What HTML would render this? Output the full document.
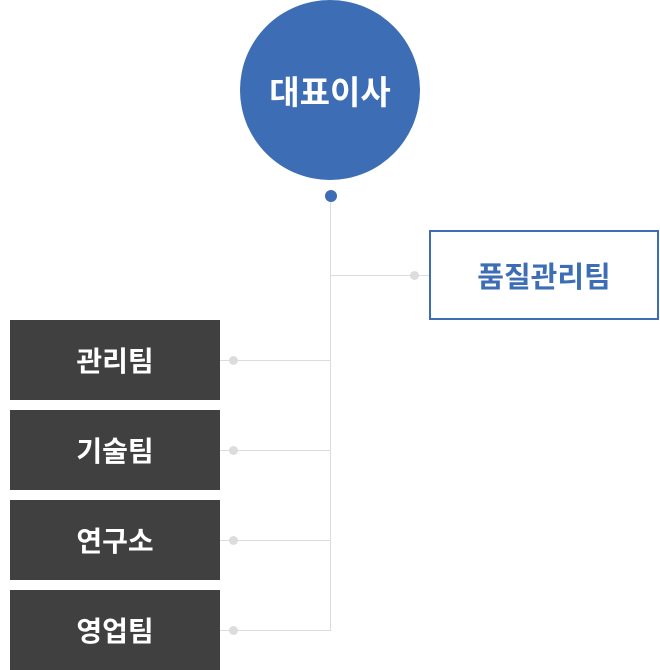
<!DOCTYPE html>
<html><head><meta charset="utf-8"><style>
body{margin:0;width:660px;height:670px;background:#fff;position:relative;overflow:hidden;font-family:"Liberation Sans","Noto Sans CJK KR",sans-serif;font-weight:bold}
.a{position:absolute}
.circle{left:240px;top:0;width:180px;height:180px;border-radius:50%;background:#3d6db5;color:#fff;font-size:33px;display:flex;align-items:center;justify-content:center}
.dot{width:12px;height:12px;border-radius:50%}
.g{background:#dcdcdc}
.box{left:10px;width:210px;height:80px;background:#404040;color:#fff;font-size:28px;display:flex;align-items:center;justify-content:center}
.q{left:429px;top:230px;width:226px;height:86px;border:2px solid #3d6db5;color:#3d6db5;font-size:29px;display:flex;align-items:center;justify-content:center}
</style></head><body>
<div class="a circle">대표이사</div>
<div class="a g" style="left:330px;top:195px;width:1px;height:436px"></div>
<div class="a dot" style="left:325px;top:190px;background:#3d6db5"></div>
<div class="a g" style="left:330px;top:275px;width:100px;height:1px"></div>
<div class="a dot g" style="left:410px;top:271px;width:9px;height:9px"></div>
<div class="a q">품질관리팀</div>
<div class="a box" style="top:320px">관리팀</div>
<div class="a box" style="top:410px">기술팀</div>
<div class="a box" style="top:500px">연구소</div>
<div class="a box" style="top:590px">영업팀</div>
<div class="a g" style="left:220px;top:360px;width:110px;height:1px"></div>
<div class="a g" style="left:220px;top:450px;width:110px;height:1px"></div>
<div class="a g" style="left:220px;top:540px;width:110px;height:1px"></div>
<div class="a g" style="left:220px;top:630px;width:110px;height:1px"></div>
<div class="a dot g" style="left:229px;top:356px;width:9px;height:9px"></div>
<div class="a dot g" style="left:229px;top:446px;width:9px;height:9px"></div>
<div class="a dot g" style="left:229px;top:536px;width:9px;height:9px"></div>
<div class="a dot g" style="left:229px;top:626px;width:9px;height:9px"></div>
</body></html>
